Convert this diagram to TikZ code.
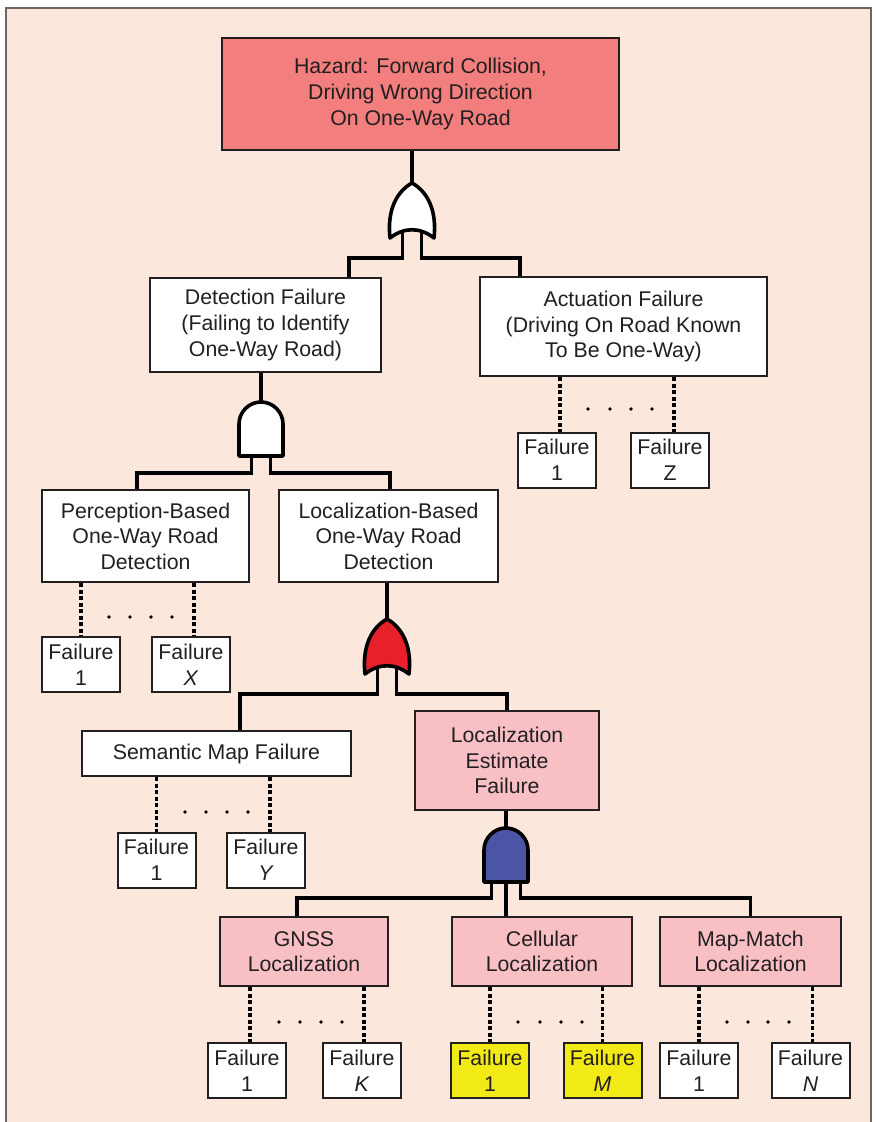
\documentclass[tikz,border=0pt]{standalone}
\usepackage{fontspec}
\setmainfont{Liberation Sans}
\usetikzlibrary{shadows}
\definecolor{bg}{HTML}{FCE7DC}
\definecolor{framecol}{HTML}{6E6664}
\definecolor{hazardcol}{HTML}{F27E7E}
\definecolor{pinkbox}{HTML}{F8C0C4}
\definecolor{yel}{HTML}{F2EA17}
\definecolor{redgate}{HTML}{E8202A}
\definecolor{bluegate}{HTML}{4C55A5}
\definecolor{txt}{HTML}{231F20}
\tikzset{
  box/.style={draw=txt, line width=2pt, fill=white, align=center, inner sep=0pt,
    text=txt, font=\fontsize{21.3}{25.6}\selectfont,
    drop shadow={shadow xshift=1.2pt, shadow yshift=-1.2pt, fill=black, opacity=0.3}},
  fbox/.style={box, minimum width=78pt, minimum height=55pt},
  conn/.style={line width=3.3pt, draw=black},
  dashline/.style={line width=3.3pt, dash pattern=on 4pt off 2.5pt, draw=black},
  gate/.style={line width=3.6pt, draw=black, line join=round},
  orgate/.pic={
    \path[gate, fill=#1] (-22,55) .. controls (-25,28) and (-16,9) .. (0,0)
       .. controls (16,9) and (25,28) .. (22,55)
       .. controls (8,44) and (-8,44) .. cycle;
    \coordinate (-top) at (0,0);
    \coordinate (-L) at (-9.5,47);
    \coordinate (-R) at (9.5,47);
  },
  andgate/.pic={
    \path[gate, fill=#1] (-22,54) -- (-22,22) .. controls (-22,10) and (-12,0) .. (0,0)
       .. controls (12,0) and (22,10) .. (22,22) -- (22,54) -- cycle;
    \coordinate (-top) at (0,0);
    \coordinate (-L) at (-14.5,54);
    \coordinate (-M) at (0,54);
    \coordinate (-R) at (14.5,54);
    \coordinate (-l) at (-9.5,54);
    \coordinate (-r) at (9.5,54);
  }
}
\begin{document}
\begin{tikzpicture}[x=1pt,y=-1pt]
\useasboundingbox (0,0) rectangle (877,1122);
\fill[white] (0,0) rectangle (877,1122);
\draw[draw=framecol, line width=2pt, fill=bg] (6,8) rectangle (871,1140);

% main boxes
\node[box, fill=hazardcol, minimum width=397pt, minimum height=112pt] (hazard) at (420.5,94)
  {Hazard: Forward Collision,\\Driving Wrong Direction\\On One-Way Road};
\node[box, minimum width=231pt, minimum height=94pt] (det) at (265.5,325)
  {Detection Failure\\(Failing to Identify\\One-Way Road)};
\node[box, minimum width=287pt, minimum height=99pt] (act) at (623.5,326.5)
  {Actuation Failure\\(Driving On Road Known\\To Be One-Way)};
\node[box, minimum width=207pt, minimum height=92pt] (perc) at (145.5,536)
  {Perception-Based\\One-Way Road\\Detection};
\node[box, minimum width=219pt, minimum height=92pt] (locb) at (388.5,536)
  {Localization-Based\\One-Way Road\\Detection};
\node[box, minimum width=269pt, minimum height=45pt] (sem) at (216.5,753.5)
  {Semantic Map Failure};
\node[box, fill=pinkbox, minimum width=184pt, minimum height=99pt] (locest) at (507,760.5)
  {Localization\\Estimate\\Failure};
\node[box, fill=pinkbox, minimum width=168pt, minimum height=69pt] (gnss) at (304,951.5)
  {GNSS\\Localization};
\node[box, fill=pinkbox, minimum width=180pt, minimum height=69pt] (cell) at (542,951.5)
  {Cellular\\Localization};
\node[box, fill=pinkbox, minimum width=181pt, minimum height=69pt] (mm) at (750.5,951.5)
  {Map-Match\\Localization};

% failure boxes
\node[fbox] (a1) at (557,460) {Failure\\1};
\node[fbox] (aZ) at (670,460) {Failure\\Z};
\node[fbox] (p1) at (81,664.5) {Failure\\1};
\node[fbox] (pX) at (191,664.5) {Failure\\\textit{X}};
\node[fbox] (s1) at (156.5,860) {Failure\\1};
\node[fbox] (sY) at (266,860) {Failure\\\textit{Y}};
\node[fbox] (g1f) at (247,1070.5) {Failure\\1};
\node[fbox] (gK) at (362,1070.5) {Failure\\\textit{K}};
\node[fbox, fill=yel] (c1) at (490,1070.5) {Failure\\1};
\node[fbox, fill=yel] (cM) at (602.5,1070.5) {Failure\\\textit{M}};
\node[fbox] (m1) at (699,1070.5) {Failure\\1};
\node[fbox] (mN) at (810.5,1070.5) {Failure\\\textit{N}};

% dashed links
\draw[dashline] ([xshift=3pt]a1.north |- act.south) -- ([xshift=3pt]a1.north);
\draw[dashline] ([xshift=4pt]aZ.north |- act.south) -- ([xshift=4pt]aZ.north);
\draw[dashline] (p1.north |- perc.south) -- (p1.north);
\draw[dashline] ([xshift=3pt]pX.north |- perc.south) -- ([xshift=3pt]pX.north);
\draw[dashline] (s1.north |- sem.south) -- (s1.north);
\draw[dashline] ([xshift=4pt]sY.north |- sem.south) -- ([xshift=4pt]sY.north);
\draw[dashline] ([xshift=3pt]g1f.north |- gnss.south) -- ([xshift=3pt]g1f.north);
\draw[dashline] ([xshift=2pt]gK.north |- gnss.south) -- ([xshift=2pt]gK.north);
\draw[dashline] (c1.north |- cell.south) -- (c1.north);
\draw[dashline] (cM.north |- cell.south) -- (cM.north);
\draw[dashline] (m1.north |- mm.south) -- (m1.north);
\draw[dashline] ([xshift=2pt]mN.north |- mm.south) -- ([xshift=2pt]mN.north);

% ellipsis dots
\foreach \x in {588,610,631,652} \fill (\x,409) circle (1.9pt);
\foreach \x in {109,130,151,172} \fill (\x,617) circle (1.9pt);
\foreach \x in {185,206,227,248} \fill (\x,812) circle (1.9pt);
\foreach \x in {279,300,321,342} \fill (\x,1022) circle (1.9pt);
\foreach \x in {518,540,561,582} \fill (\x,1022) circle (1.9pt);
\foreach \x in {727,748,768,789} \fill (\x,1022) circle (1.9pt);

% gate connectors (drawn before gates)
\draw[conn] (hazard.south -| 412,0) -- (412,183);
\draw[conn] (det.south -| 261,0) -- (261,402);
\draw[conn] (locb.south -| 387,0) -- (387,619);
\draw[conn] (locest.south -| 506,0) -- (506,828);

% gates
\pic (g1) at (412,183) {orgate=white};
\pic (g2) at (261,402) {andgate=white};
\pic (g3) at (387,619) {orgate=redgate};
\pic (g4) at (506,828) {andgate=bluegate};

% gate outputs
\draw[conn] (g1-L) -- ++(0,28) -| ([xshift=83.5pt]det.north);
\draw[conn] (g1-R) -- ++(0,28) -| ([xshift=-103.5pt]act.north);
\draw[conn] (g2-l) -- ++(0,17) -| ([xshift=-8.5pt]perc.north);
\draw[conn] (g2-r) -- ++(0,17) -| ([xshift=1.5pt]locb.north);
\draw[conn] (g3-L) -- ++(0,28) -| ([xshift=23.5pt]sem.north);
\draw[conn] (g3-R) -- ++(0,28) -| (locest.north);
\draw[conn] (g4-L) -- ++(0,16) -| ([xshift=-7pt]gnss.north);
\draw[conn] (g4-M) -- (g4-M |- cell.north);
\draw[conn] (g4-R) -- ++(0,16) -| (mm.north);
\end{tikzpicture}
\end{document}
